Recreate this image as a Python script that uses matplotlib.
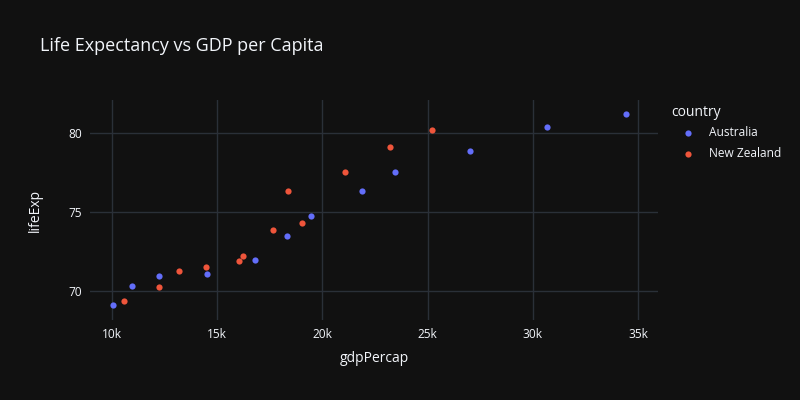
import matplotlib.pyplot as plt

# gapminder, Oceania
au_gdp = [10039.6, 10949.65, 12217.23, 14526.12, 16788.63, 18334.20,
          19477.01, 21888.89, 23424.77, 26997.94, 30687.75, 34435.37]
au_life = [69.12, 70.33, 70.93, 71.10, 71.93, 73.49,
           74.74, 76.32, 77.56, 78.83, 80.37, 81.235]
nz_gdp = [10556.58, 12247.40, 13175.68, 14463.92, 16046.04, 16233.72,
          17632.41, 19007.19, 18363.32, 21050.41, 23189.80, 25185.01]
nz_life = [69.39, 70.26, 71.24, 71.52, 71.89, 72.22,
           73.84, 74.32, 76.33, 77.55, 79.11, 80.204]

x_ticks = [10000, 15000, 20000, 25000, 30000, 35000]
x_labels = ['10k', '15k', '20k', '25k', '30k', '35k']
y_ticks = [70, 75, 80]

bg = '#111111'
grid = '#2a3038'
txt = '#f2f5fa'

plt.rcParams['font.family'] = ['Open Sans', 'DejaVu Sans']

fig = plt.figure(figsize=(8, 4), dpi=100, facecolor=bg)
ax = fig.add_axes([0.1125, 0.2, 0.71, 0.55], facecolor=bg)

ax.scatter(au_gdp, au_life, s=20, color='#636efa', label='Australia', zorder=3, linewidths=0)
ax.scatter(nz_gdp, nz_life, s=20, color='#EF553B', label='New Zealand', zorder=3, linewidths=0)

ax.set_xlim(8950, 35950)
ax.set_ylim(68.16, 82.09)
ax.set_xticks(x_ticks)
ax.set_xticklabels(x_labels)
ax.set_yticks(y_ticks)
ax.grid(True, color=grid, linewidth=1)
ax.set_axisbelow(True)
for s in ax.spines.values():
    s.set_visible(False)
ax.tick_params(length=0, colors=txt, labelsize=8.6, pad=6)

ax.set_xlabel('gdpPercap', color=txt, fontsize=10, labelpad=7)
ax.set_ylabel('lifeExp', color=txt, fontsize=10, labelpad=18)

fig.text(40 / 800, 1 - 46 / 400, 'Life Expectancy vs GDP per Capita',
         color=txt, fontsize=13, va='center', ha='left')

# legend title drawn separately so it sits tight above the entries
fig.text(671 / 800, 1 - 113 / 400, 'country', color=txt, fontsize=10,
         va='center', ha='left')
leg = fig.legend(loc='upper left', bbox_to_anchor=(676 / 800, 1 - 126 / 400),
                 frameon=False, fontsize=8.6, labelcolor=txt,
                 handletextpad=0.75, borderaxespad=0, borderpad=0,
                 markerscale=1.0, labelspacing=0.67)

fig.savefig('out.png', dpi=100, facecolor=bg)
